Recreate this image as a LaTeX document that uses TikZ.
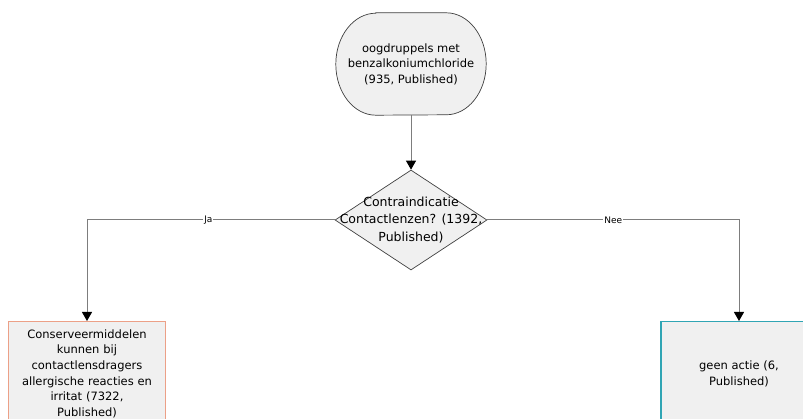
\documentclass[tikz,border=0pt]{standalone}
\usepackage{fontspec}
\setmainfont{DejaVu Sans}
\usepackage{tikz}
\usetikzlibrary{arrows.meta,shapes,positioning,backgrounds}
\definecolor{nodefill}{RGB}{240,240,240}
\definecolor{edgegray}{RGB}{125,125,125}
\definecolor{salmonline}{RGB}{236,160,135}
\definecolor{tealline}{RGB}{48,165,180}

\begin{document}
\begin{tikzpicture}[x=1pt, y=1pt,
    start/.style={rectangle, minimum width=150pt, minimum height=102pt, align=center, font=\fontsize{11.5}{15.5}\selectfont},
    decide/.style={diamond, draw=black!75, line width=0.7pt, fill=nodefill, minimum width=152pt, minimum height=100pt, inner sep=0pt},
    dectxt/.style={align=center, inner sep=0pt, font=\fontsize{12.5}{17.5}\selectfont},
    result/.style={rectangle, fill=nodefill, line width=1.4pt, minimum height=104pt, align=center, font=\fontsize{11.5}{15.6}\selectfont, anchor=north},
    arrow/.style={-{Triangle[length=9pt, width=10pt, color=black]}, draw=edgegray, line width=1pt},
    lbl/.style={font=\fontsize{9}{10}\selectfont, fill=white, inner sep=1pt}
]
    \useasboundingbox (0,0) rectangle (803,-419);
    \clip (0,0) rectangle (803,-419);

    \node[start] (drops) at (411,-64) {oogdruppels met\\benzalkoniumchloride\\(935, Published)};
    % rounded outline of the start node
    \begin{scope}[on background layer]
        \draw[draw=black!75, line width=0.7pt, fill=nodefill]
            ([xshift=40pt]drops.north west) -- ([xshift=-40pt]drops.north east)
            arc[start angle=90, end angle=-90, x radius=40pt, y radius=51pt]
            -- ([xshift=40pt]drops.south west)
            arc[start angle=270, end angle=90, x radius=40pt, y radius=51pt] -- cycle;
    \end{scope}
    \node[decide] (lenses) at (411,-220) {};
    \node[dectxt] (lensestext) at (lenses.center) {Contraindicatie\\Contactlenzen? (1392,\\Published)};
    \node[result, draw=salmonline, minimum width=153pt, text width=150pt] (warning) at (87,-321) {Conserveermiddelen\\kunnen bij\\contactlensdragers\\allergische reacties en\\irritat (7322,\\Published)};
    \node[result, draw=tealline, minimum width=156pt] (noaction) at (739,-321) {geen actie (6,\\Published)};

    \draw[arrow] (drops) -- (lenses);
    \draw[arrow] (lenses.west) -| (warning.north) node[lbl, pos=0.255] {Ja};
    \draw[arrow] (lenses.east) -| (noaction.north) node[lbl, pos=0.25] {Nee};
\end{tikzpicture}
\end{document}
